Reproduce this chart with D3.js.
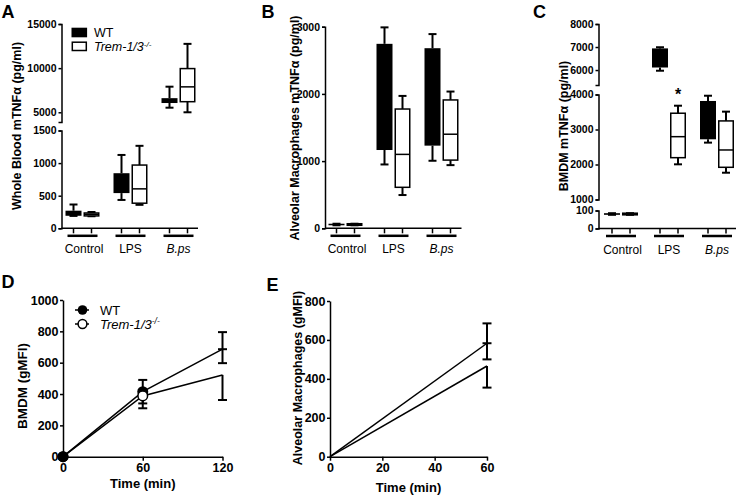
<!DOCTYPE html>
<html><head><meta charset="utf-8">
<script src="https://cdn.jsdelivr.net/npm/d3@7"></script>
<style>
body{margin:0;background:#fff;}
svg{display:block;font-family:"Liberation Sans",Arial,Helvetica,sans-serif;}
</style></head><body>
<svg id="c" width="736" height="496"></svg>
<script>
// ---------- DATA ----------
const groups = ["Control", "LPS", "B.ps"];
const series = ["WT", "Trem-1/3"];
// box data: [min, q1, median, q3, max]
const aWT   = [[190,192,230,270,365],[435,540,700,845,1125],[5520,6050,6300,6600,7900]];
const aTrem = [[185,190,215,235,250],[360,385,605,970,1265],[5000,6200,7880,9950,12750]];
const bWT   = [[45,45,55,68,68],[950,1165,2000,2745,2990],[1005,1230,1900,2680,2890]];
const bTrem = [[45,45,55,68,68],[495,610,1100,1775,1970],[940,1015,1400,1910,2035]];
const cWT   = [[76,76,80,85,85],[5970,6110,6500,6940,6990],[2625,2720,3300,3815,3965]];
const cTrem = [[76,76,80,85,85],[2005,2195,2795,3465,3680],[1765,1920,2415,3245,3510]];
const aTicksTop = [5000,10000,15000], aTicksBottom = [0,500,1000,1500];
const bTicks = [0,1000,2000,3000];
const cTicksTop = [6000,7000,8000], cTicksMid = [1000,2000,3000,4000], cTicksBottom = [0,100];
const cSignif = ["", "*", ""]; // asterisk over Trem box

const dTimes = [0, 60, 120];
const dWT = [0, 415, 686], dWTHi = [0, 490, 795], dWTLo = [0, 340, 597];
const dTrem = [0, 388, 522], dTremLo = [0, 309, 362];
const dMarkerTimes = [0, 60];
const dTicksX = [0, 60, 120], dTicksY = [0,200,400,600,800,1000];

const eTimes = [0, 60];
const eWT = [0, 583], eWTHi = [0, 685], eWTLo = [0, 500];
const eTrem = [0, 466], eTremLo = [0, 355];
const eTicksX = [0,20,40,60], eTicksY = [0,200,400,600,800];

// ---------- DRAW ----------
const svg = d3.select("#c");
const FONT = '"Liberation Sans",Arial,Helvetica,sans-serif';

function styleAxis(g, fs) {
  g.select(".domain").attr("stroke", "#000").attr("stroke-width", 1.5);
  g.selectAll(".tick line").attr("stroke", "#000").attr("stroke-width", 1.5);
  g.selectAll(".tick text").attr("fill", "#000").attr("font-weight", "bold")
    .attr("font-size", fs).attr("font-family", FONT);
}

function letter(t, x, y) {
  svg.append("text").attr("x", x).attr("y", y).text(t)
    .attr("font-size", 18).attr("font-weight", "bold");
}
function yTitle(t, x, y, fs) {
  const tx = svg.append("text").attr("transform", `translate(${x},${y}) rotate(-90)`)
    .attr("text-anchor", "middle").attr("font-size", fs).attr("font-weight", "bold");
  return tx.text(t);
}

// box panel
function boxPanel(opt) {
  const {axisX, xStart, xEnd, y0, segs, wt, trem, thresholds} = opt;
  const gx = d3.scaleBand().domain(groups).range([xStart, xStart + 144]);
  const sx = d3.scalePoint().domain(series).range([-9, 9]);
  const yOf = v => {
    for (let i = 0; i < segs.length; i++) if (v >= thresholds[i]) return segs[i].scale(v);
    return segs[segs.length - 1].scale(v);
  };
  segs.forEach(s => {
    const g = svg.append("g").attr("transform", `translate(${axisX},0)`)
      .call(d3.axisLeft(s.scale).tickValues(s.ticks).tickSize(3).tickSizeOuter(3)
        .tickPadding(2).tickFormat(d3.format("d")));
    styleAxis(g, 10.5);
  });
  svg.append("line").attr("x1", axisX).attr("x2", xEnd).attr("y1", y0).attr("y2", y0)
    .attr("stroke", "#000").attr("stroke-width", 1.5);
  const bw = 16;
  groups.forEach((gname, gi) => {
    const gc = gx(gname) + gx.bandwidth() / 2;
    svg.append("line").attr("x1", gc - 15).attr("x2", gc + 15)
      .attr("y1", y0 + 7.5).attr("y2", y0 + 7.5).attr("stroke", "#000").attr("stroke-width", 2.5);
    svg.append("text").attr("x", gc + (gi === 0 ? 1.5 : 0)).attr("y", y0 + 25).attr("text-anchor", "middle")
      .attr("font-size", 12).attr("font-style", gname === "B.ps" ? "italic" : "normal").text(gname);
    [[wt, series[0]], [trem, series[1]]].forEach(([arr, sname], si) => {
      const cx = gc + sx(sname);
      const [mn, q1, md, q3, mx] = arr[gi];
      svg.append("line").attr("x1", cx).attr("x2", cx).attr("y1", y0).attr("y2", y0 + 5)
        .attr("stroke", "#000").attr("stroke-width", 1.5);
      const g = svg.append("g");
      g.append("line").attr("x1", cx).attr("x2", cx).attr("y1", yOf(mx)).attr("y2", yOf(q3))
        .attr("stroke", "#000").attr("stroke-width", 2);
      g.append("line").attr("x1", cx).attr("x2", cx).attr("y1", yOf(q1)).attr("y2", yOf(mn))
        .attr("stroke", "#000").attr("stroke-width", 2);
      [mx, mn].forEach(v => g.append("line").attr("x1", cx - 4).attr("x2", cx + 4)
        .attr("y1", yOf(v)).attr("y2", yOf(v)).attr("stroke", "#000").attr("stroke-width", 2));
      if (si === 0) {
        g.append("rect").attr("x", cx - bw / 2).attr("width", bw)
          .attr("y", yOf(q3)).attr("height", Math.max(1.5, yOf(q1) - yOf(q3))).attr("fill", "#000");
      } else {
        g.append("rect").attr("x", cx - bw / 2 + 0.75).attr("width", bw - 1.5)
          .attr("y", yOf(q3)).attr("height", Math.max(0.5, yOf(q1) - yOf(q3)))
          .attr("fill", "#fff").attr("stroke", "#000").attr("stroke-width", 1.5);
        g.append("line").attr("x1", cx - bw / 2 + 0.75).attr("x2", cx + bw / 2 - 0.75)
          .attr("y1", yOf(md)).attr("y2", yOf(md)).attr("stroke", "#000").attr("stroke-width", 1.5);
        if (opt.signif && opt.signif[gi]) {
          svg.append("text").attr("x", cx).attr("y", yOf(mx) - 6).attr("text-anchor", "middle")
            .attr("font-size", 16).attr("font-weight", "bold").text(opt.signif[gi]);
        }
      }
    });
  });
}

boxPanel({
  axisX: 61.5, xStart: 58.5, xEnd: 198, y0: 228.3,
  thresholds: [3000, -Infinity],
  segs: [
    {scale: d3.scaleLinear().domain([3900, 15000]).range([122, 24]), ticks: aTicksTop},
    {scale: d3.scaleLinear().domain([0, 1500]).range([228.3, 130.5]), ticks: aTicksBottom}
  ],
  wt: aWT, trem: aTrem
});
boxPanel({
  axisX: 325, xStart: 321.5, xEnd: 461.5, y0: 228.3,
  thresholds: [-Infinity],
  segs: [{scale: d3.scaleLinear().domain([0, 3000]).range([228.3, 26.7]), ticks: bTicks}],
  wt: bWT, trem: bTrem
});
boxPanel({
  axisX: 598.5, xStart: 597, xEnd: 736, y0: 228.5,
  thresholds: [5000, 500, -Infinity],
  segs: [
    {scale: d3.scaleLinear().domain([5350, 8000]).range([85, 24]), ticks: cTicksTop},
    {scale: d3.scaleLinear().domain([1000, 4000]).range([199.5, 94.5]), ticks: cTicksMid},
    {scale: d3.scaleLinear().domain([0, 100]).range([228.5, 210.5]), ticks: cTicksBottom}
  ],
  wt: cWT, trem: cTrem, signif: cSignif
});

letter("A", 1.5, 17.5); letter("B", 261.5, 17.5); letter("C", 533, 17.5);
letter("D", 1.5, 287.5); letter("E", 266.5, 291);

function mtnfTitle(prefix, x, y) {
  yTitle(prefix + "mTNFα (pg/ml)", x, y, 12.5);
}
mtnfTitle("Whole Blood ", 20.5, 126);
mtnfTitle("Alveolar Macrophages ", 298.5, 128);
mtnfTitle("BMDM ", 567.5, 126);

// Legend A
svg.append("rect").attr("x", 71.5).attr("y", 27.7).attr("width", 15.6).attr("height", 9.6).attr("fill", "#000");
svg.append("rect").attr("x", 72.3).attr("y", 42.2).attr("width", 14).attr("height", 8.3)
  .attr("fill", "#fff").attr("stroke", "#000").attr("stroke-width", 1.5);
svg.append("text").attr("x", 94).attr("y", 37).attr("font-size", 12.5).text(series[0]);
const lt = svg.append("text").attr("x", 94).attr("y", 51).attr("font-size", 12.5).attr("font-style", "italic");
lt.append("tspan").text(series[1]);
lt.append("tspan").attr("dy", -4.5).attr("font-size", 8).text("-/-");

// ---------- line panels ----------
function linePanel(o) {
  const x = d3.scaleLinear().domain(o.xDom).range(o.xRange);
  const y = d3.scaleLinear().domain(o.yDom).range([456.7, o.yTop]);
  const gy = svg.append("g").attr("transform", `translate(${o.xRange[0]},0)`)
    .call(d3.axisLeft(y).tickValues(o.ticksY).tickSize(3).tickSizeOuter(0).tickPadding(1.5)
      .tickFormat(d3.format("d")));
  styleAxis(gy, 12.5);
  const gxA = svg.append("g").attr("transform", `translate(0,456.7)`)
    .call(d3.axisBottom(x).tickValues(o.ticksX).tickSize(4).tickSizeOuter(0).tickPadding(2)
      .tickFormat(d3.format("d")));
  styleAxis(gxA, 12.5);
  svg.append("text").attr("x", (o.xRange[0] + o.xRange[1]) / 2).attr("y", o.titleY)
    .attr("text-anchor", "middle").attr("font-size", 13).attr("font-weight", "bold").text("Time (min)");
  const line = d3.line().x(d => x(d[0])).y(d => y(d[1]));
  [o.wt, o.trem].forEach(vals => {
    svg.append("path").attr("d", line(o.times.map((t, i) => [t, vals[i]])))
      .attr("fill", "none").attr("stroke", "#000").attr("stroke-width", 1.5);
  });
  const bar = (cx, a, b) => svg.append("line").attr("x1", cx).attr("x2", cx)
    .attr("y1", y(a)).attr("y2", y(b)).attr("stroke", "#000").attr("stroke-width", 2);
  const cap = (cx, v) => svg.append("line").attr("x1", cx - 4.5).attr("x2", cx + 4.5)
    .attr("y1", y(v)).attr("y2", y(v)).attr("stroke", "#000").attr("stroke-width", 2);
  o.times.forEach((t, i) => {
    const cx = x(t);
    if (o.wtHi[i] !== o.wt[i]) { bar(cx, o.wt[i], o.wtHi[i]); cap(cx, o.wtHi[i]); }
    if (o.wtLo[i] !== o.wt[i]) { bar(cx, o.wt[i], o.wtLo[i]); cap(cx, o.wtLo[i]); }
    if (o.tremLo[i] !== o.trem[i]) { bar(cx, o.trem[i], o.tremLo[i]); cap(cx, o.tremLo[i]); }
    const marked = o.markers.includes(t);
    if (!marked && t !== 0) cap(cx, o.wt[i]);
    if (marked) {
      const drawWT = () => svg.append("circle").attr("cx", cx).attr("cy", y(o.wt[i])).attr("r", 5.5).attr("fill", "#000");
      const drawTr = () => svg.append("circle").attr("cx", cx).attr("cy", y(o.trem[i])).attr("r", 4.8)
        .attr("fill", "#fff").attr("stroke", "#000").attr("stroke-width", 1.5);
      if (t === 0) { drawTr(); drawWT(); } else { drawWT(); drawTr(); }
    }
  });
  return {x, y};
}

linePanel({
  xDom: [0, 120], xRange: [63, 222.5], yDom: [0, 1000], yTop: 300,
  ticksX: dTicksX, ticksY: dTicksY, titleY: 487.5,
  times: dTimes, wt: dWT, wtHi: dWTHi, wtLo: dWTLo, trem: dTrem, tremLo: dTremLo,
  markers: dMarkerTimes
});
linePanel({
  xDom: [0, 60], xRange: [330, 487], yDom: [0, 800], yTop: 301,
  ticksX: eTicksX, ticksY: eTicksY, titleY: 492,
  times: eTimes, wt: eWT, wtHi: eWTHi, wtLo: eWTLo, trem: eTrem, tremLo: eTremLo,
  markers: []
});

yTitle("BMDM (gMFI)", 27, 386, 13.5);
yTitle("Alveolar Macrophages (gMFI)", 301.5, 378, 12.5);

// Legend D
svg.append("line").attr("x1", 75).attr("x2", 89).attr("y1", 310).attr("y2", 310).attr("stroke", "#000").attr("stroke-width", 1.5);
svg.append("circle").attr("cx", 82.5).attr("cy", 310).attr("r", 4.8).attr("fill", "#000");
svg.append("line").attr("x1", 75).attr("x2", 89).attr("y1", 324).attr("y2", 324).attr("stroke", "#000").attr("stroke-width", 1.5);
svg.append("circle").attr("cx", 82.5).attr("cy", 324).attr("r", 4.4).attr("fill", "#fff").attr("stroke", "#000").attr("stroke-width", 1.5);
svg.append("text").attr("x", 100).attr("y", 314.5).attr("font-size", 13).text(series[0]);
const lt2 = svg.append("text").attr("x", 100).attr("y", 328.5).attr("font-size", 13).attr("font-style", "italic");
lt2.append("tspan").text(series[1]);
lt2.append("tspan").attr("dy", -5).attr("font-size", 8.5).text("-/-");
</script>
</body></html>
